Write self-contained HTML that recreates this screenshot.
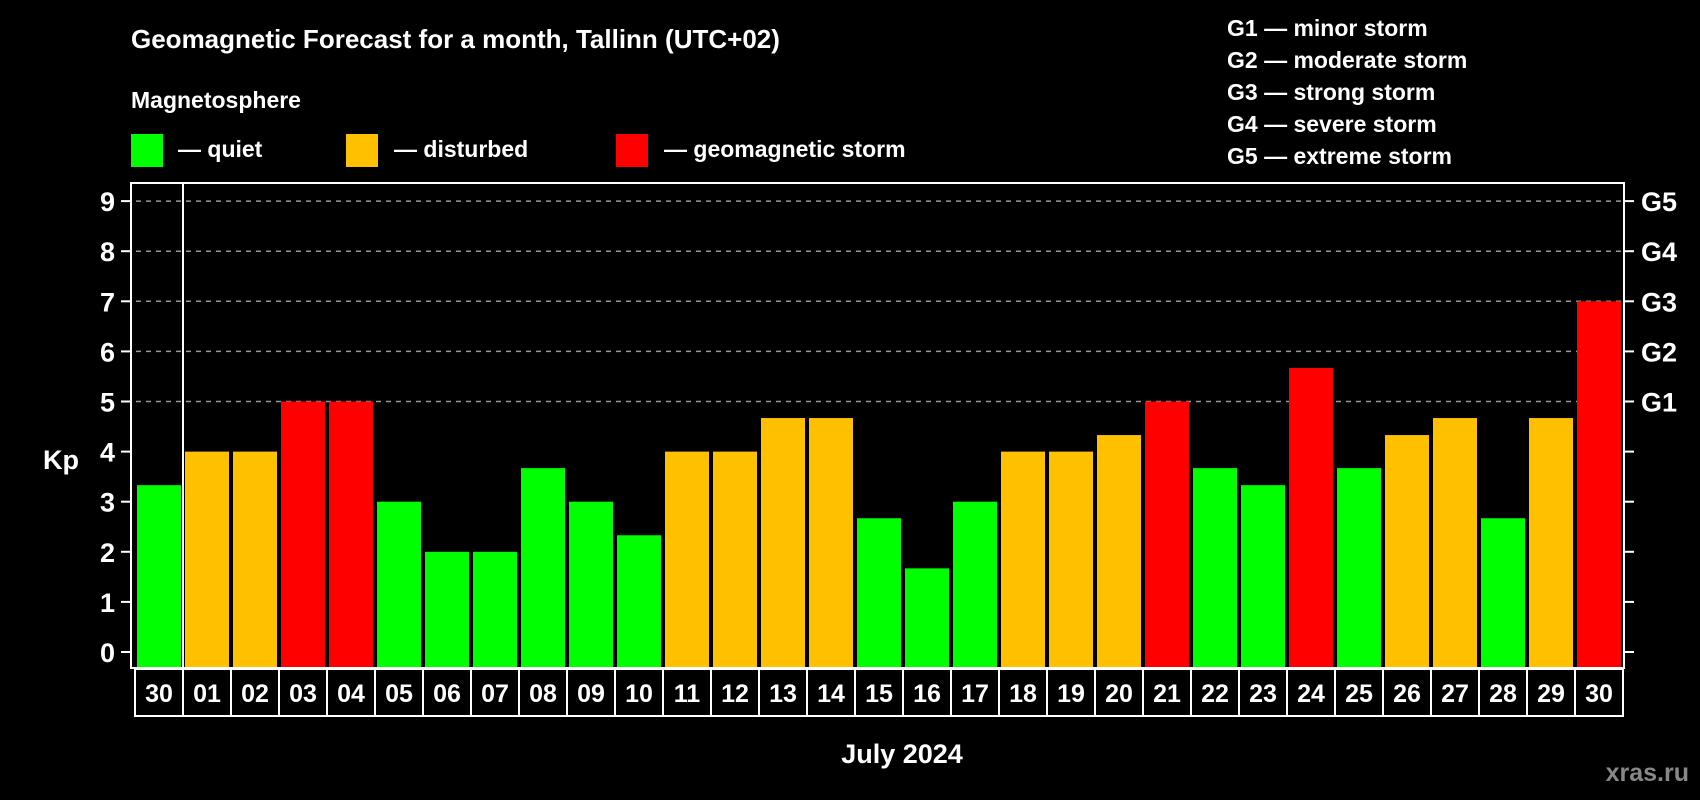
<!DOCTYPE html>
<html><head><meta charset="utf-8"><style>
html,body{margin:0;padding:0;background:#000;}
svg{display:block;font-family:"Liberation Sans",Arial,sans-serif;font-weight:bold;}
</style></head><body>
<svg id="chart" width="1700" height="800" viewBox="0 0 1700 800">
<text x="131" y="48" fill="#fff" font-size="26">Geomagnetic Forecast for a month, Tallinn (UTC+02)</text>
<text x="131" y="108" fill="#fff" font-size="23">Magnetosphere</text>
<g><rect x="131" y="134" width="32" height="33" fill="#00ff00"/><text x="178" y="157" fill="#fff" font-size="23">— quiet</text></g>
<g><rect x="346" y="134" width="32" height="33" fill="#ffc000"/><text x="394" y="157" fill="#fff" font-size="23">— disturbed</text></g>
<g><rect x="616" y="134" width="32" height="33" fill="#ff0000"/><text x="664" y="157" fill="#fff" font-size="23">— geomagnetic storm</text></g>
<g fill="#fff" font-size="23">
<text x="1227" y="36">G1 — minor storm</text>
<text x="1227" y="68">G2 — moderate storm</text>
<text x="1227" y="100">G3 — strong storm</text>
<text x="1227" y="132">G4 — severe storm</text>
<text x="1227" y="164">G5 — extreme storm</text>
</g>
<text x="43" y="469" fill="#fff" font-size="27">Kp</text>
<text x="902" y="763" fill="#fff" font-size="27" text-anchor="middle">July 2024</text>
<text x="1689" y="781" fill="#888" font-size="25" text-anchor="end">xras.ru</text>
<g id="plot"></g>
</svg>
<script>
const days = ["30","01","02","03","04","05","06","07","08","09","10","11","12","13","14","15","16","17","18","19","20","21","22","23","24","25","26","27","28","29","30"];
const kp = [3.33,4,4,5,5,3,2,2,3.67,3,2.33,4,4,4.67,4.67,2.67,1.67,3,4,4,4.33,5,3.67,3.33,5.67,3.67,4.33,4.67,2.67,4.67,7];
const yTicks = [0,1,2,3,4,5,6,7,8,9];
const gLabels = ["","","","","","G1","G2","G3","G4","G5"];

const NS="http://www.w3.org/2000/svg";
const plot=document.getElementById('plot');
const L=131,R=1624,T=183,B=668,pitch=48,x0=137,bw=44;
const y=v=>652-v*50.1;
const x=i=>x0+i*pitch;
function mk(tag,attrs,parent){const e=document.createElementNS(NS,tag);for(const k in attrs)e.setAttribute(k,attrs[k]);(parent||plot).appendChild(e);return e;}
function color(v){return v<4?"#00ff00":(v<5?"#ffc000":"#ff0000");}

yTicks.forEach((t,i)=>{
  if(t>=5){const g=mk('line',{x1:L+5,x2:R,y1:y(t),y2:y(t),stroke:'#999','stroke-width':1.5,'stroke-dasharray':'5 5'});
  
  }
  mk('line',{x1:L-10,x2:L,y1:y(t),y2:y(t),stroke:'#fff','stroke-width':2});
  mk('line',{x1:R,x2:R+10,y1:y(t),y2:y(t),stroke:'#fff','stroke-width':2});
  const lt=mk('text',{x:115,y:y(t)+10,fill:'#fff','font-size':27,'text-anchor':'end'});
  lt.textContent=t;
  
  
  if(gLabels[i]){const gt=mk('text',{x:1641,y:y(t)+10,fill:'#fff','font-size':27});
  gt.textContent=gLabels[i];
  
  }
});

kp.forEach((v,i)=>{
  const r=mk('rect',{x:x(i),y:y(v),width:bw,height:B-y(v),fill:color(v)});
  
  
  const bx=mk('rect',{x:x(i)-2,y:B+1,width:pitch,height:47,fill:'none',stroke:'#fff','stroke-width':2});
  
  
  const t=mk('text',{x:x(i)+bw/2,y:B+34,fill:'#fff','font-size':25,'text-anchor':'middle'});
  t.textContent=days[i];
  
  
});
const f=mk('rect',{x:L,y:T,width:R-L,height:B-T,fill:'none',stroke:'#fff','stroke-width':2});


const d=mk('line',{x1:183,x2:183,y1:T,y2:B,stroke:'#fff','stroke-width':2});


</script>
</body></html>
